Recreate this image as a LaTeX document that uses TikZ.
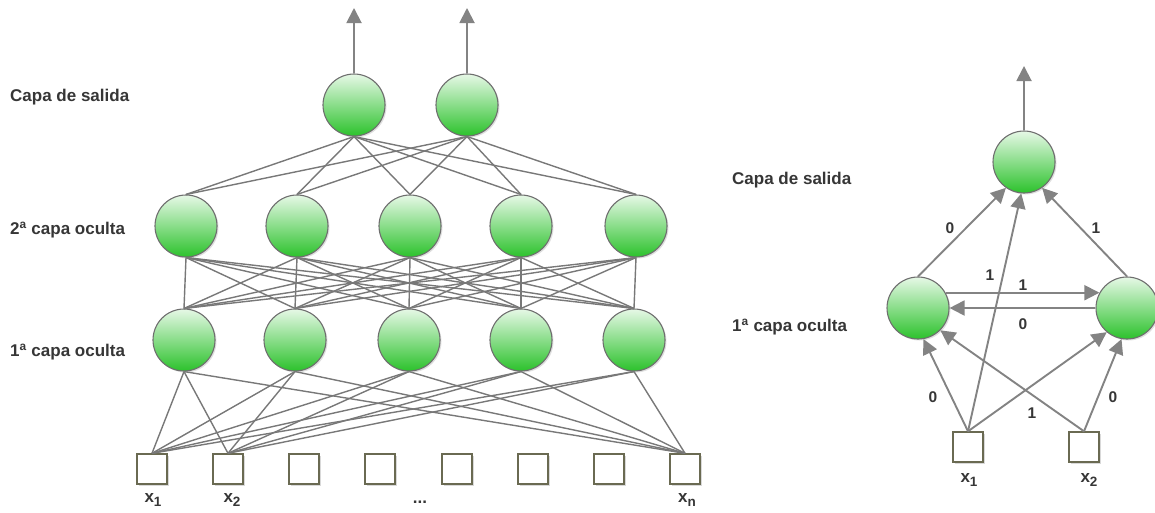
\documentclass[tikz,border=0pt]{standalone}
\usepackage{fontspec}
\setmainfont{Liberation Sans}
\usetikzlibrary{arrows.meta,shadows}
\definecolor{linkgray}{HTML}{787878}
\definecolor{arrowgray}{HTML}{838383}
\definecolor{ringgray}{HTML}{6E6E6E}
\definecolor{boxline}{HTML}{6A6A52}
\definecolor{greentop}{HTML}{E6F8E6}
\definecolor{greenbot}{HTML}{2CC22C}
\definecolor{labgray}{HTML}{363636}
% input label: bold x with a lowered index
\newcommand{\inlab}[1]{x\raisebox{-0.45ex}{\fontsize{13.5}{15}\selectfont #1}}
\begin{document}
\begin{tikzpicture}[x=1pt,y=-1pt,
  neuron/.style={circle, minimum size=62pt, inner sep=0pt, draw=ringgray,
    line width=1.1pt, top color=greentop, bottom color=greenbot,
    drop shadow={opacity=0.25, shadow xshift=1.5pt, shadow yshift=-1.5pt}},
  inbox/.style={rectangle, minimum size=30pt, inner sep=0pt, draw=boxline,
    line width=1.4pt, fill=white,
    drop shadow={opacity=0.3, shadow xshift=1.5pt, shadow yshift=-1.5pt}},
  link/.style={draw=linkgray, line width=1.4pt},
  flow/.style={draw=arrowgray, line width=1.9pt,
    -{Triangle[length=15pt,width=15pt]}},
  lab/.style={font=\bfseries\fontsize{17}{20}\selectfont, text=labgray, inner sep=0pt},
  wt/.style={font=\bfseries\fontsize{15.5}{18}\selectfont, text=labgray}]
\useasboundingbox (0,0) rectangle (1155,512);

% ---------- multilayer network ----------
\foreach \i/\x in {1/354,2/467} \node[neuron] (o\i) at (\x,105) {};
\foreach \i/\x in {1/186,2/297,3/410,4/521,5/636} \node[neuron] (b\i) at (\x,226) {};
\foreach \i/\x in {1/184,2/295,3/409,4/521,5/634} \node[neuron] (a\i) at (\x,340) {};
\foreach \i/\x in {1/152,2/228,3/304,4/380,5/457,6/533,7/609,8/685}
  \node[inbox] (in\i) at (\x,469) {};

\foreach \i in {1,2} \foreach \j in {1,...,5} \draw[link] (o\i.south) -- (b\j.north);
\foreach \i in {1,...,5} \foreach \j in {1,...,5} \draw[link] (b\i.south) -- (a\j.north);
\foreach \i in {1,...,5} \foreach \j in {1,2,8} \draw[link] (a\i.south) -- (in\j.north);

\coordinate (up1) at (354,8);
\coordinate (up2) at (467,8);
\draw[flow] (o1.north) -- (up1);
\draw[flow] (o2.north) -- (up2);

\node[lab, anchor=west] (l3) at (10,97) {Capa de salida};
\node[lab, anchor=west] (l2) at (10,230) {2\textsuperscript{a} capa oculta};
\node[lab, anchor=west] (l1) at (10,352) {1\textsuperscript{a} capa oculta};

\node[lab] (xa) at (153,500) {\inlab{1}};
\node[lab] (xb) at (232,500) {\inlab{2}};
\node[lab] (dots) at (420,502) {...};
\node[lab] (xn) at (687,500) {\inlab{n}};

% ---------- small recurrent network ----------
\node[neuron] (ro) at (1024,162) {};
\node[neuron] (rh1) at (918,308) {};
\node[neuron] (rh2) at (1127,308) {};
\node[inbox] (rx1) at (968,447) {};
\node[inbox] (rx2) at (1084,447) {};

\coordinate (rup) at (1024,66);
\draw[flow] (ro.north) -- (rup);

\draw[flow] (rh1.north) -- (ro.-125);
\draw[flow] (rh2.north) -- (ro.-55);
\draw[flow] (rx1.north) -- (ro.-95);
\draw[flow] (rh1.29) -- (rh2.151);
\draw[flow] (rh2.west) -- (rh1.east);
\draw[flow] (rx1.north) -- (rh1.-80);
\draw[flow] (rx1.north) -- (rh2.-130);
\draw[flow] (rx2.north) -- (rh1.-45);
\draw[flow] (rx2.north) -- (rh2.-100);

\node[wt] (w1) at (950,228) {0};
\node[wt] (w2) at (1096,228) {1};
\node[wt] (w3) at (990,275) {1};
\node[wt] (w4) at (1023,285) {1};
\node[wt] (w5) at (1023,324) {0};
\node[wt] (w6) at (933,397) {0};
\node[wt] (w7) at (1032,413) {1};
\node[wt] (w8) at (1113,397) {0};

\node[lab, anchor=west] (r2) at (732,180) {Capa de salida};
\node[lab, anchor=west] (r1) at (732,327) {1\textsuperscript{a} capa oculta};

\node[lab] (rxa) at (969,480) {\inlab{1}};
\node[lab] (rxb) at (1089,480) {\inlab{2}};
\end{tikzpicture}
\end{document}
